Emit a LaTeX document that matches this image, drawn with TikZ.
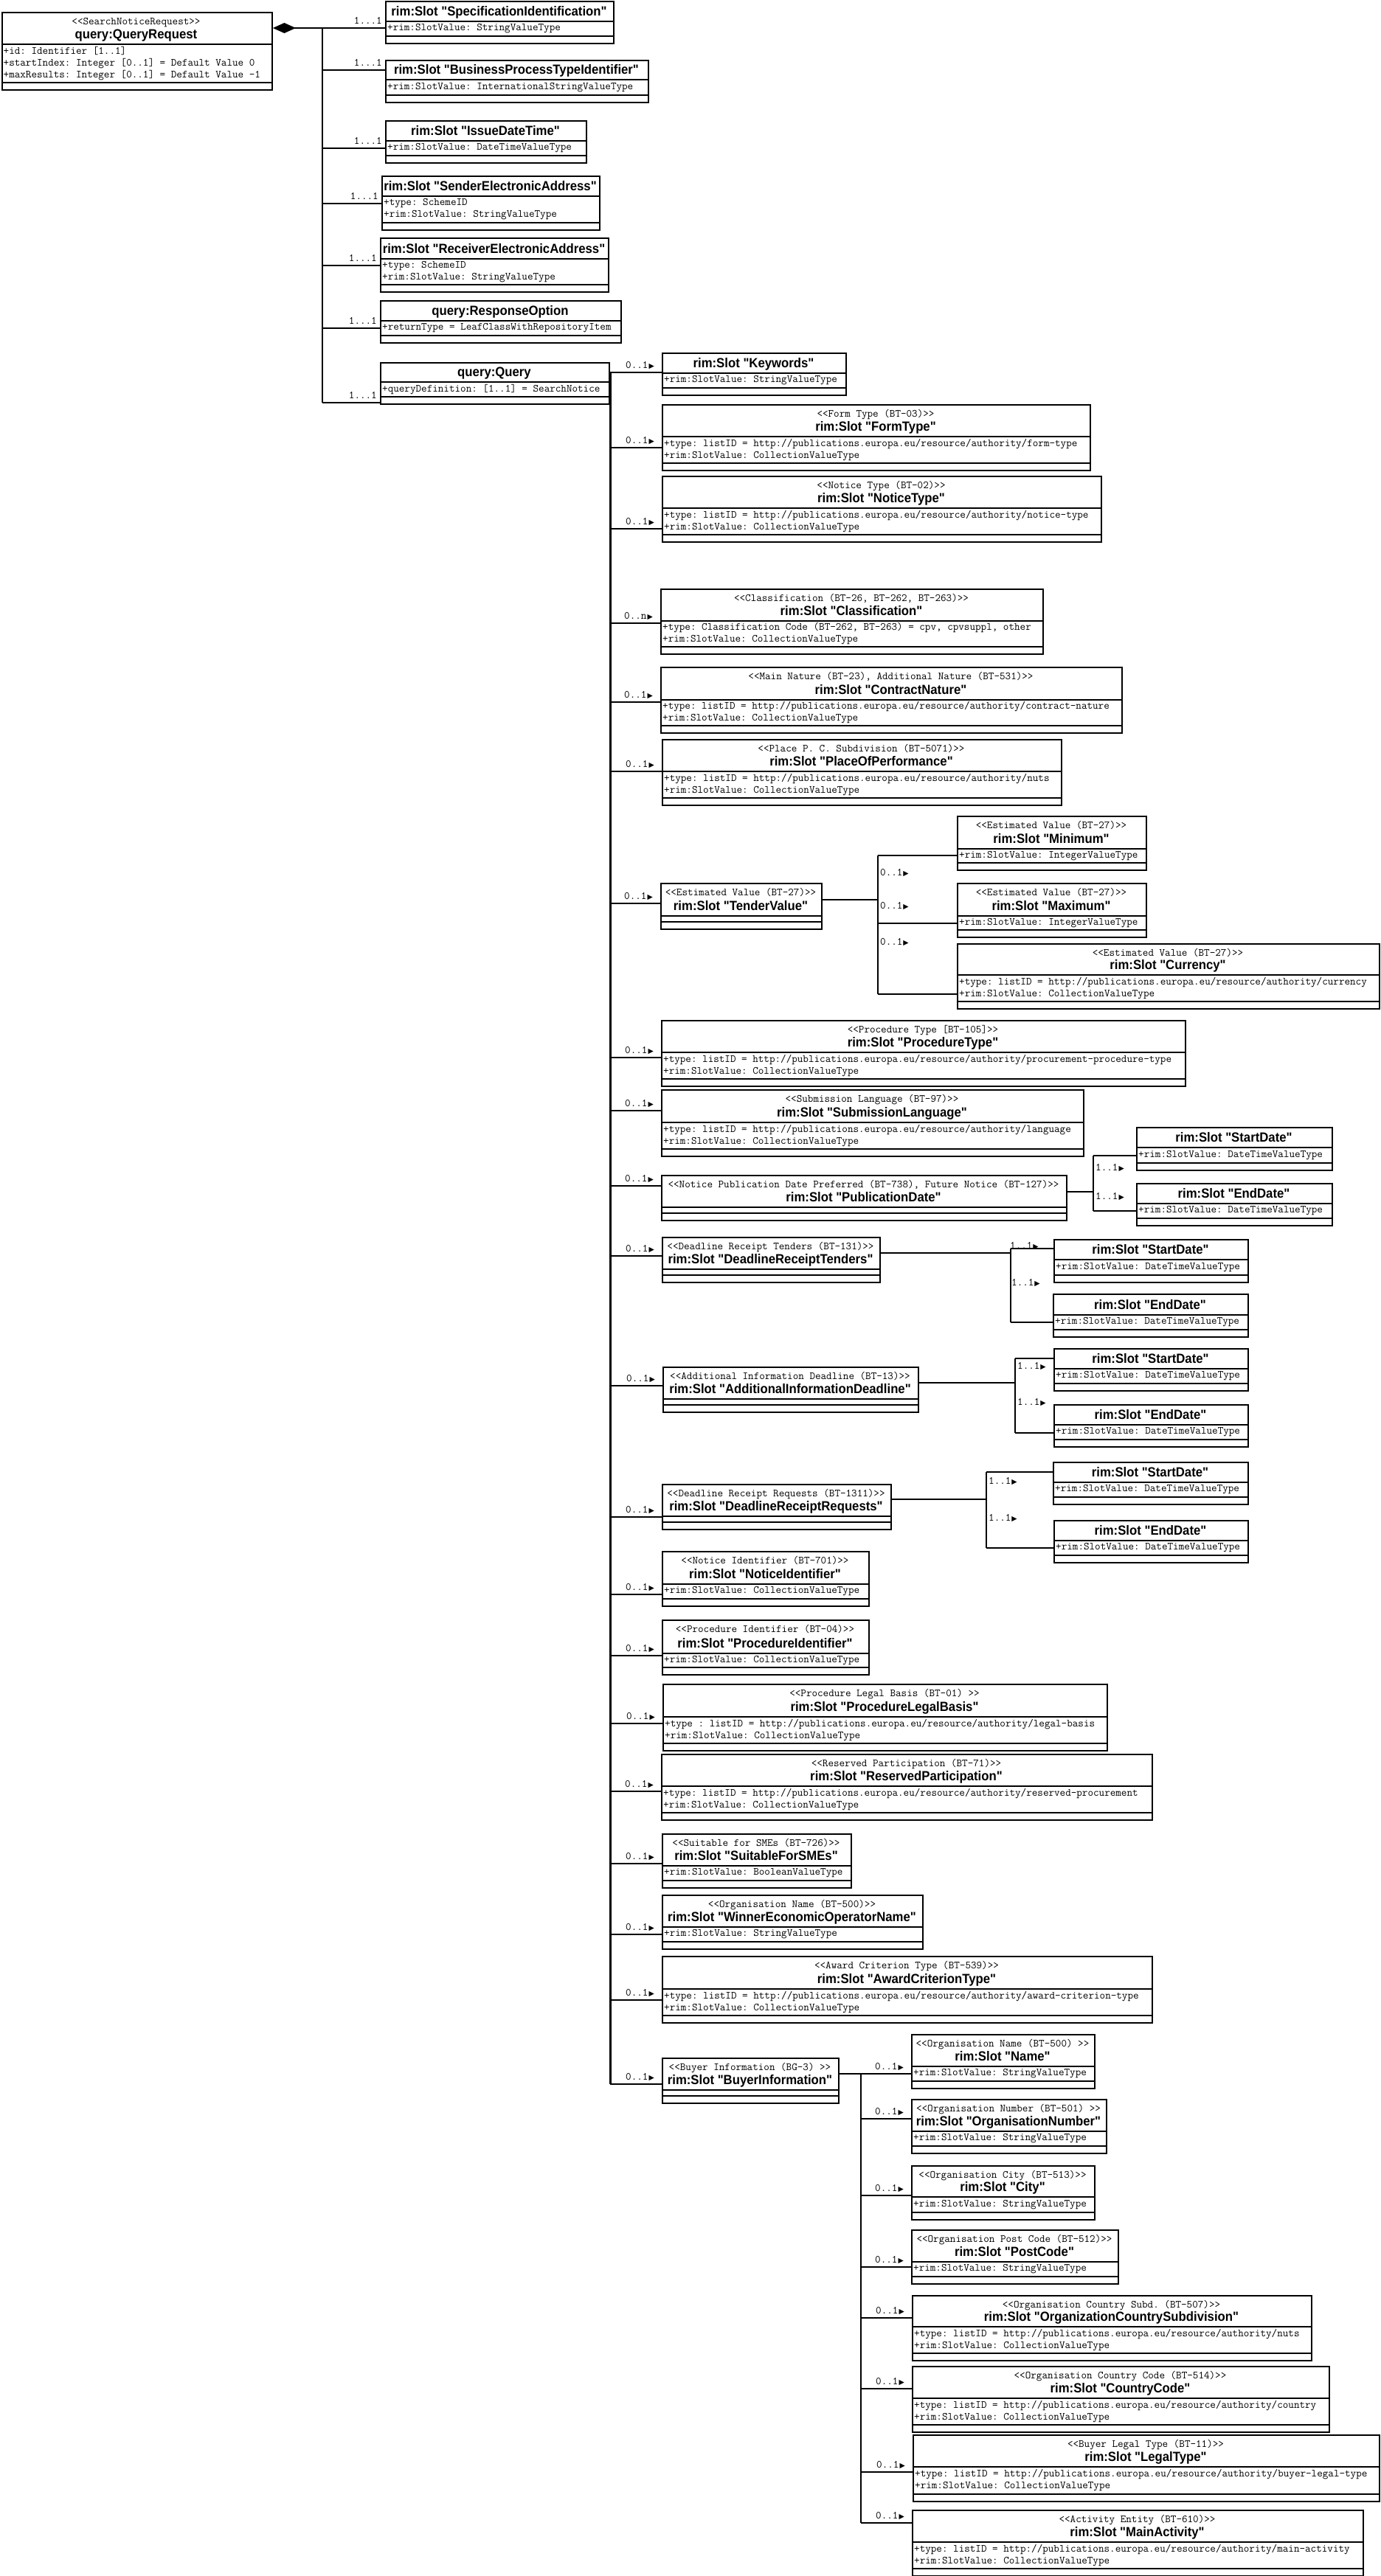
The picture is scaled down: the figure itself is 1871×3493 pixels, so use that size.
\documentclass[tikz,border=0pt]{standalone}
\usepackage{fontspec}
\usetikzlibrary{arrows.meta}
\newfontfamily\slotsans[FakeStretch=0.93]{Liberation Sans}
\newfontfamily\slotsym{DejaVu Sans}
\newcommand{\attrfont}{\ttfamily\fontsize{14.7}{16}\selectfont}
\newcommand{\namefont}{\slotsans\bfseries\fontsize{18}{20}\selectfont}
\newcommand{\tri}{\kern1pt{\slotsym\fontsize{9.5}{10}\selectfont ▶}}
\frenchspacing

\tikzset{
  slotframe/.style={draw, line width=2.4pt, inner sep=0pt, anchor=north west},
  slotline/.style={line width=2.4pt},
  slotstereo/.style={font=\attrfont, inner sep=0pt, anchor=base},
  slotname/.style={font=\namefont, inner sep=0pt, anchor=base},
  slotattr/.style={font=\attrfont, align=left, inner sep=0pt, anchor=west},
  assocline/.style={line width=2.2pt},
  multlabel/.style={font=\attrfont, inner sep=1pt, text depth=0pt},
}

% box: name, x, y, width, title height, attribute height, stereotype, title, attributes
\newcommand{\slotbox}[9]{%
  \node[slotframe, minimum width=#4pt, minimum height=#5pt+#6pt+9pt] (#1) at (#2,#3) {};
  \draw[slotline] (#2,#3+#5) -- ++(#4,0);
  \draw[slotline] (#2,#3+#5+#6) -- ++(#4,0);
  \if\relax\detokenize{#7}\relax\else
    \node[slotstereo] (#1-s) at (#2+#4/2,#3+17.5) {#7};
  \fi
  \node[slotname] (#1-t) at (#2+#4/2,#3+#5-7.5) {#8};
  \node[slotattr] (#1-a) at (#2+3,#3+#5+#6/2) {#9};
}
% connector from a trunk to a box, with its multiplicity
\newcommand{\assoc}[5][9]{%
  \draw[assocline] (#2 |- 0,#4) -- (#3.west |- 0,#4);
  \node[multlabel, anchor=south east, xshift=-#1pt, yshift=4pt] (#3-m) at (#3.west |- 0,#4) {#5};
}
\newcommand{\branch}[3]{\draw[assocline] (#1 |- 0,#3) -- (#2.west |- 0,#3);}

\begin{document}
\begin{tikzpicture}[x=1pt,y=-1pt]
\useasboundingbox[fill=white] (0,0) rectangle (1871,3493);

% request
\slotbox{qr}{1.5}{16}{366}{44}{52}{<<SearchNoticeRequest>>}{query:QueryRequest}{+id: Identifier [1..1]\\+startIndex: Integer [0..1] = Default Value 0\\+maxResults: Integer [0..1] = Default Value -1}
\slotbox{spec}{522}{1}{309}{28}{20}{}{rim:Slot "SpecificationIdentification"}{+rim:SlotValue: StringValueType}
\slotbox{bpti}{522}{81}{356}{27}{21}{}{rim:Slot "BusinessProcessTypeIdentifier"}{+rim:SlotValue: InternationalStringValueType}
\slotbox{idt}{522}{163}{272}{28}{20}{}{rim:Slot "IssueDateTime"}{+rim:SlotValue: DateTimeValueType}
\slotbox{sea}{517}{238}{295}{28}{36}{}{rim:Slot "SenderElectronicAddress"}{+type: SchemeID\\+rim:SlotValue: StringValueType}
\slotbox{rea}{515}{322}{309}{29}{35}{}{rim:Slot "ReceiverElectronicAddress"}{+type: SchemeID\\+rim:SlotValue: StringValueType}
\slotbox{ro}{515}{407}{326}{28}{20}{}{query:ResponseOption}{+returnType = LeafClassWithRepositoryItem}
\slotbox{q}{515}{491}{310}{27}{20}{}{query:Query}{+queryDefinition: [1..1] = SearchNotice}

\coordinate (rtrunk) at (437,38);
\draw[assocline, {Diamond[length=31pt,width=14pt]}-] (qr.east |- rtrunk) -- (rtrunk);
\draw[assocline] (rtrunk) -- (rtrunk |- 0,546);
\assoc[3]{rtrunk}{spec}{38}{1...1}
\assoc[3]{rtrunk}{bpti}{95}{1...1}
\assoc[3]{rtrunk}{idt}{201}{1...1}
\assoc[3]{rtrunk}{sea}{276}{1...1}
\assoc[3]{rtrunk}{rea}{360}{1...1}
\assoc[3]{rtrunk}{ro}{445}{1...1}
\assoc[3]{rtrunk}{q}{546}{1...1}

% query slots
\slotbox{kw}{897}{478}{249}{28}{20}{}{rim:Slot "Keywords"}{+rim:SlotValue: StringValueType}
\slotbox{ft}{897}{548}{580}{44}{36}{<<Form Type (BT-03)>>}{rim:Slot "FormType"}{+type: listID = http://publications.europa.eu/resource/authority/form-type\\+rim:SlotValue: CollectionValueType}
\slotbox{nt}{897}{645}{595}{44}{36}{<<Notice Type (BT-02)>>}{rim:Slot "NoticeType"}{+type: listID = http://publications.europa.eu/resource/authority/notice-type\\+rim:SlotValue: CollectionValueType}
\slotbox{cl}{895}{798}{518}{44}{35}{<<Classification (BT-26, BT-262, BT-263)>>}{rim:Slot "Classification"}{+type: Classification Code (BT-262, BT-263) = cpv, cpvsuppl, other\\+rim:SlotValue: CollectionValueType}
\slotbox{cn}{895}{904}{625}{45}{35}{<<Main Nature (BT-23), Additional Nature (BT-531)>>}{rim:Slot "ContractNature"}{+type: listID = http://publications.europa.eu/resource/authority/contract-nature\\+rim:SlotValue: CollectionValueType}
\slotbox{pp}{897}{1002}{541}{44}{36}{<<Place P. C. Subdivision (BT-5071)>>}{rim:Slot "PlaceOfPerformance"}{+type: listID = http://publications.europa.eu/resource/authority/nuts\\+rim:SlotValue: CollectionValueType}
\slotbox{tv}{895}{1197}{218}{45}{8}{<<Estimated Value (BT-27)>>}{rim:Slot "TenderValue"}{}
\slotbox{pt}{896}{1383}{710}{44}{36}{<<Procedure Type [BT-105]>>}{rim:Slot "ProcedureType"}{+type: listID = http://publications.europa.eu/resource/authority/procurement-procedure-type\\+rim:SlotValue: CollectionValueType}
\slotbox{sl}{896}{1477}{572}{45}{36}{<<Submission Language (BT-97)>>}{rim:Slot "SubmissionLanguage"}{+type: listID = http://publications.europa.eu/resource/authority/language\\+rim:SlotValue: CollectionValueType}
\slotbox{pd}{896}{1593}{549}{44}{8}{<<Notice Publication Date Preferred (BT-738), Future Notice (BT-127)>>}{rim:Slot "PublicationDate"}{}
\slotbox{drt}{897}{1677}{295}{44}{8}{<<Deadline Receipt Tenders (BT-131)>>}{rim:Slot "DeadlineReceiptTenders"}{}
\slotbox{aid}{898}{1853}{346}{44}{8}{<<Additional Information Deadline (BT-13)>>}{rim:Slot "AdditionalInformationDeadline"}{}
\slotbox{drr}{897}{2012}{310}{44}{8}{<<Deadline Receipt Requests (BT-1311)>>}{rim:Slot "DeadlineReceiptRequests"}{}
\slotbox{ni}{897}{2103}{280}{45}{20}{<<Notice Identifier (BT-701)>>}{rim:Slot "NoticeIdentifier"}{+rim:SlotValue: CollectionValueType}
\slotbox{pi}{897}{2196}{280}{46}{19}{<<Procedure Identifier (BT-04)>>}{rim:Slot "ProcedureIdentifier"}{+rim:SlotValue: CollectionValueType}
\slotbox{plb}{898}{2283}{602}{45}{36}{<<Procedure Legal Basis (BT-01) >>}{rim:Slot "ProcedureLegalBasis"}{+type : listID = http://publications.europa.eu/resource/authority/legal-basis\\+rim:SlotValue: CollectionValueType}
\slotbox{rp}{896}{2378}{665}{44}{36}{<<Reserved Participation (BT-71)>>}{rim:Slot "ReservedParticipation"}{+type: listID = http://publications.europa.eu/resource/authority/reserved-procurement\\+rim:SlotValue: CollectionValueType}
\slotbox{sme}{897}{2486}{256}{44}{20}{<<Suitable for SMEs (BT-726)>>}{rim:Slot "SuitableForSMEs"}{+rim:SlotValue: BooleanValueType}
\slotbox{weo}{897}{2569}{353}{44}{20}{<<Organisation Name (BT-500)>>}{rim:Slot "WinnerEconomicOperatorName"}{+rim:SlotValue: StringValueType}
\slotbox{act}{897}{2652}{664}{45}{36}{<<Award Criterion Type (BT-539)>>}{rim:Slot "AwardCriterionType"}{+type: listID = http://publications.europa.eu/resource/authority/award-criterion-type\\+rim:SlotValue: CollectionValueType}
\slotbox{bi}{897}{2790}{239}{44}{8}{<<Buyer Information (BG-3) >>}{rim:Slot "BuyerInformation"}{}

\coordinate (qtrunk) at (q.east |- 0,505);
\draw[assocline] (qtrunk) -- (qtrunk |- 0,2826);
\assoc{qtrunk}{kw}{505}{0..1\tri}
\assoc{qtrunk}{ft}{607}{0..1\tri}
\assoc{qtrunk}{nt}{717}{0..1\tri}
\assoc{qtrunk}{cl}{845}{0..n\tri}
\assoc{qtrunk}{cn}{952}{0..1\tri}
\assoc{qtrunk}{pp}{1046}{0..1\tri}
\assoc{qtrunk}{tv}{1225}{0..1\tri}
\assoc{qtrunk}{pt}{1434}{0..1\tri}
\assoc{qtrunk}{sl}{1506}{0..1\tri}
\assoc{qtrunk}{pd}{1608}{0..1\tri}
\assoc{qtrunk}{drt}{1703}{0..1\tri}
\assoc{qtrunk}{aid}{1879}{0..1\tri}
\assoc{qtrunk}{drr}{2057}{0..1\tri}
\assoc{qtrunk}{ni}{2162}{0..1\tri}
\assoc{qtrunk}{pi}{2245}{0..1\tri}
\assoc{qtrunk}{plb}{2337}{0..1\tri}
\assoc{qtrunk}{rp}{2429}{0..1\tri}
\assoc{qtrunk}{sme}{2527}{0..1\tri}
\assoc{qtrunk}{weo}{2623}{0..1\tri}
\assoc{qtrunk}{act}{2712}{0..1\tri}
\assoc{qtrunk}{bi}{2826}{0..1\tri}

% tender value
\slotbox{tvmin}{1297}{1106}{256}{45}{19}{<<Estimated Value (BT-27)>>}{rim:Slot "Minimum"}{+rim:SlotValue: IntegerValueType}
\slotbox{tvmax}{1297}{1197}{256}{45}{19}{<<Estimated Value (BT-27)>>}{rim:Slot "Maximum"}{+rim:SlotValue: IntegerValueType}
\slotbox{tvcur}{1297}{1279}{572}{43}{36}{<<Estimated Value (BT-27)>>}{rim:Slot "Currency"}{+type: listID = http://publications.europa.eu/resource/authority/currency\\+rim:SlotValue: CollectionValueType}
\coordinate (tvj) at (1190,1220);
\draw[assocline] (tv.east |- tvj) -- (tvj);
\draw[assocline] (tvj |- 0,1160) -- (tvj |- 0,1348);
\branch{tvj}{tvmin}{1160}
\branch{tvj}{tvmax}{1252}
\branch{tvj}{tvcur}{1348}
\node[multlabel, anchor=west] (tvmin-m) at (1192,1183) {0..1\tri};
\node[multlabel, anchor=west] (tvmax-m) at (1192,1228) {0..1\tri};
\node[multlabel, anchor=west] (tvcur-m) at (1192,1277) {0..1\tri};

% publication date
\slotbox{pdst}{1540}{1528}{265}{28}{21}{}{rim:Slot "StartDate"}{+rim:SlotValue: DateTimeValueType}
\slotbox{pden}{1540}{1604}{265}{28}{20}{}{rim:Slot "EndDate"}{+rim:SlotValue: DateTimeValueType}
\coordinate (pdj) at (1482,1616);
\draw[assocline] (pd.east |- pdj) -- (pdj);
\draw[assocline] (pdj |- 0,1567) -- (pdj |- 0,1642);
\branch{pdj}{pdst}{1567}
\branch{pdj}{pden}{1642}
\node[multlabel, anchor=west] (pdst-m) at (1484,1583) {1..1\tri};
\node[multlabel, anchor=west] (pden-m) at (1484,1622) {1..1\tri};

% deadline receipt tenders
\slotbox{drtst}{1428}{1680}{263}{28}{21}{}{rim:Slot "StartDate"}{+rim:SlotValue: DateTimeValueType}
\slotbox{drten}{1427}{1754}{264}{29}{20}{}{rim:Slot "EndDate"}{+rim:SlotValue: DateTimeValueType}
\coordinate (drtj) at (1370,1699);
\draw[assocline] (drt.east |- drtj) -- (drtj);
\draw[assocline] (drtj |- 0,1693) -- (drtj |- 0,1793);
\branch{drtj}{drtst}{1693}
\branch{drtj}{drten}{1793}
\node[multlabel, anchor=west] (drtst-m) at (1368,1689) {1..1\tri};
\node[multlabel, anchor=west] (drten-m) at (1370,1739) {1..1\tri};

% additional information deadline
\slotbox{aidst}{1428}{1828}{263}{28}{20}{}{rim:Slot "StartDate"}{+rim:SlotValue: DateTimeValueType}
\slotbox{aiden}{1428}{1904}{263}{28}{20}{}{rim:Slot "EndDate"}{+rim:SlotValue: DateTimeValueType}
\coordinate (aidj) at (1376,1875);
\draw[assocline] (aid.east |- aidj) -- (aidj);
\draw[assocline] (aidj |- 0,1842) -- (aidj |- 0,1943);
\branch{aidj}{aidst}{1842}
\branch{aidj}{aiden}{1943}
\node[multlabel, anchor=west] (aidst-m) at (1378,1852) {1..1\tri};
\node[multlabel, anchor=west] (aiden-m) at (1378,1901) {1..1\tri};

% deadline receipt requests
\slotbox{drrst}{1427}{1982}{264}{28}{20}{}{rim:Slot "StartDate"}{+rim:SlotValue: DateTimeValueType}
\slotbox{drren}{1428}{2061}{263}{28}{20}{}{rim:Slot "EndDate"}{+rim:SlotValue: DateTimeValueType}
\coordinate (drrj) at (1337,2033);
\draw[assocline] (drr.east |- drrj) -- (drrj);
\draw[assocline] (drrj |- 0,1996) -- (drrj |- 0,2099);
\branch{drrj}{drrst}{1996}
\branch{drrj}{drren}{2099}
\node[multlabel, anchor=west] (drrst-m) at (1339,2008) {1..1\tri};
\node[multlabel, anchor=west] (drren-m) at (1339,2058) {1..1\tri};

% buyer information
\slotbox{nm}{1235}{2758}{248}{44}{20}{<<Organisation Name (BT-500) >>}{rim:Slot "Name"}{+rim:SlotValue: StringValueType}
\slotbox{on}{1235}{2846}{264}{44}{20}{<<Organisation Number (BT-501) >>}{rim:Slot "OrganisationNumber"}{+rim:SlotValue: StringValueType}
\slotbox{ci}{1235}{2936}{248}{43}{21}{<<Organisation City (BT-513)>>}{rim:Slot "City"}{+rim:SlotValue: StringValueType}
\slotbox{pc}{1235}{3023}{280}{44}{20}{<<Organisation Post Code (BT-512)>>}{rim:Slot "PostCode"}{+rim:SlotValue: StringValueType}
\slotbox{ocs}{1236}{3112}{541}{43}{36}{<<Organisation Country Subd. (BT-507)>>}{rim:Slot "OrganizationCountrySubdivision"}{+type: listID = http://publications.europa.eu/resource/authority/nuts\\+rim:SlotValue: CollectionValueType}
\slotbox{cc}{1236}{3208}{565}{44}{36}{<<Organisation Country Code (BT-514)>>}{rim:Slot "CountryCode"}{+type: listID = http://publications.europa.eu/resource/authority/country\\+rim:SlotValue: CollectionValueType}
\slotbox{lt}{1237}{3301}{632}{44}{37}{<<Buyer Legal Type (BT-11)>>}{rim:Slot "LegalType"}{+type: listID = http://publications.europa.eu/resource/authority/buyer-legal-type\\+rim:SlotValue: CollectionValueType}
\slotbox{ma}{1236}{3403}{611}{44}{36}{<<Activity Entity (BT-610)>>}{rim:Slot "MainActivity"}{+type: listID = http://publications.europa.eu/resource/authority/main-activity\\+rim:SlotValue: CollectionValueType}
\coordinate (bij) at (1167,2812);
\draw[assocline] (bi.east |- bij) -- (bij);
\draw[assocline] (bij) -- (bij |- 0,3421);
\assoc{bij}{nm}{2812}{0..1\tri}
\assoc{bij}{on}{2873}{0..1\tri}
\assoc{bij}{ci}{2977}{0..1\tri}
\assoc{bij}{pc}{3074}{0..1\tri}
\assoc{bij}{ocs}{3143}{0..1\tri}
\assoc{bij}{cc}{3239}{0..1\tri}
\assoc{bij}{lt}{3352}{0..1\tri}
\assoc{bij}{ma}{3421}{0..1\tri}
\end{tikzpicture}
\end{document}
